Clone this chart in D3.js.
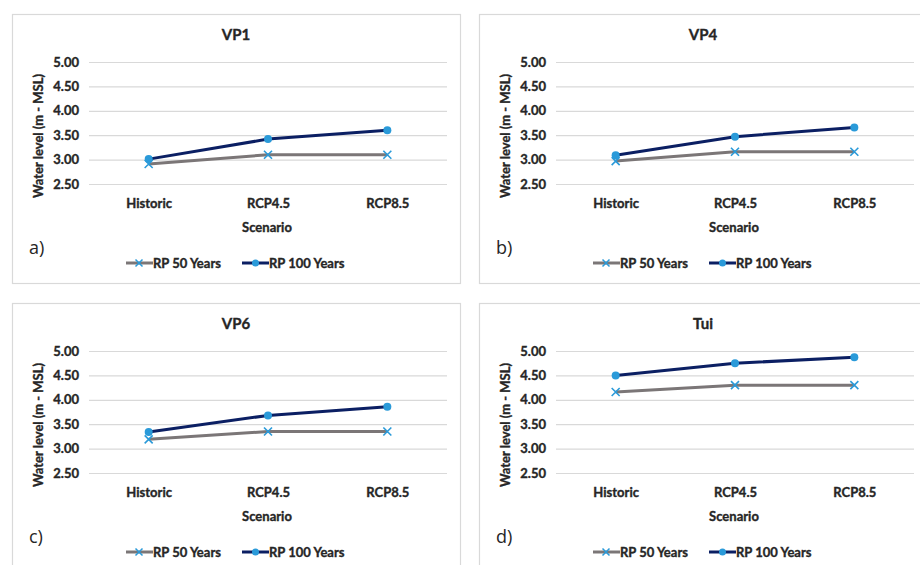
<!DOCTYPE html>
<html>
<head>
<meta charset="utf-8">
<script src="https://cdn.jsdelivr.net/npm/d3@7"></script>
<style>
  body { margin: 0; background: #fff; }
  svg { display: block; font-family: Lato, "Open Sans", sans-serif; }
  .bold { font-weight: bold; fill: #262626; stroke: #262626; stroke-width: 0.35px; }
</style>
</head>
<body>
<div id="chart"></div>
<script>
// chart data
var scenarios = ["Historic", "RCP4.5", "RCP8.5"];
var yTicks = [2.5, 3.0, 3.5, 4.0, 4.5, 5.0];
var seriesNames = ["RP 50 Years", "RP 100 Years"];
var panelTitles = ["VP1", "VP4", "VP6", "Tui"];
var panelLetters = ["a)", "b)", "c)", "d)"];
var vp1_rp50 = [2.91, 3.10, 3.10];
var vp1_rp100 = [3.01, 3.42, 3.60];
var vp4_rp50 = [2.97, 3.16, 3.16];
var vp4_rp100 = [3.09, 3.47, 3.66];
var vp6_rp50 = [3.19, 3.35, 3.35];
var vp6_rp100 = [3.34, 3.68, 3.86];
var tui_rp50 = [4.16, 4.30, 4.30];
var tui_rp100 = [4.50, 4.75, 4.87];

var panelValues = [
  [vp1_rp50, vp1_rp100],
  [vp4_rp50, vp4_rp100],
  [vp6_rp50, vp6_rp100],
  [tui_rp50, tui_rp100]
];

var lineColors = ["#7b7677", "#0b1f63"];
var markerColor = "#2a9ad9";
var gridColor = "#d9d9d9";

var svg = d3.select("#chart").append("svg")
    .attr("width", 920)
    .attr("height", 565);

// panel frames: [left, top, width, height]
var frames = [
  [12, 14, 448, 269],
  [479, 14, 448, 269],
  [12, 303, 448, 269],
  [479, 303, 448, 269]
];

frames.forEach(function (f, i) {
  var g = svg.append("g").attr("transform", "translate(" + f[0] + "," + f[1] + ")");
  g.append("rect")
      .attr("x", 0.5).attr("y", 0.5)
      .attr("width", f[2]).attr("height", f[3])
      .attr("fill", "#fff")
      .attr("stroke", gridColor)
      .attr("stroke-width", 1.2);

  var margin = { left: 77, top: 48, plotW: 358, plotH: 122 };
  var x = d3.scalePoint().domain(scenarios).range([0, margin.plotW]).padding(0.5);
  var y = d3.scaleLinear().domain([2.5, 5.0]).range([margin.plotH, 0]);

  var plot = g.append("g").attr("transform", "translate(" + margin.left + "," + margin.top + ")");

  // grid lines
  plot.append("g").selectAll("line").data(yTicks).enter().append("line")
      .attr("x1", 0).attr("x2", margin.plotW)
      .attr("y1", function (d) { return y(d) + 0.5; })
      .attr("y2", function (d) { return y(d) + 0.5; })
      .attr("stroke", gridColor)
      .attr("stroke-width", 1.2);

  // y axis
  var yAxis = plot.append("g")
      .call(d3.axisLeft(y).tickValues(yTicks).tickFormat(d3.format(".2f")).tickSize(0).tickPadding(10));
  yAxis.select(".domain").remove();
  yAxis.selectAll("text")
      .attr("class", "bold")
      .attr("font-size", 13)
      .attr("font-family", "Lato, sans-serif");

  // x axis
  var xAxis = plot.append("g")
      .attr("transform", "translate(0," + margin.plotH + ")")
      .call(d3.axisBottom(x).tickSize(0).tickPadding(15));
  xAxis.select(".domain").remove();
  xAxis.selectAll("text")
      .attr("class", "bold")
      .attr("font-size", 13)
      .attr("font-family", "Lato, sans-serif");

  // lines
  var line = d3.line()
      .x(function (d, j) { return x(scenarios[j]); })
      .y(function (d) { return y(d); });

  panelValues[i].forEach(function (vals, s) {
    plot.append("path")
        .datum(vals)
        .attr("d", line)
        .attr("fill", "none")
        .attr("stroke", lineColors[s])
        .attr("stroke-width", 3);
  });

  // markers
  panelValues[i].forEach(function (vals, s) {
    var m = plot.append("g").selectAll("g").data(vals).enter().append("g")
        .attr("transform", function (d, j) { return "translate(" + x(scenarios[j]) + "," + y(d) + ")"; });
    if (s === 0) {
      m.append("path").attr("d", "M-4,-4L4,4M-4,4L4,-4")
          .attr("stroke", markerColor).attr("stroke-width", 1.6).attr("fill", "none");
    } else {
      m.append("circle").attr("r", 4).attr("fill", markerColor);
    }
  });

  // title, centred on the frame
  g.append("text")
      .attr("class", "bold")
      .attr("x", f[2] / 2)
      .attr("y", 26)
      .attr("text-anchor", "middle")
      .attr("font-size", 15)
      .text(panelTitles[i]);

  // axis titles
  g.append("text")
      .attr("class", "bold")
      .attr("transform", "translate(31," + (margin.top + margin.plotH / 2 + 13) + ") rotate(-90)")
      .attr("text-anchor", "middle")
      .attr("font-size", 13)
      .text("Water level (m - MSL)");
  g.append("text")
      .attr("class", "bold")
      .attr("x", margin.left + margin.plotW / 2 - 1)
      .attr("y", 218)
      .attr("text-anchor", "middle")
      .attr("font-size", 13)
      .text("Scenario");

  // panel letter
  g.append("text")
      .attr("x", 17).attr("y", 240)
      .attr("font-size", 18).attr("fill", "#262626")
      .attr("font-family", "'Open Sans', sans-serif")
      .text(panelLetters[i]);

  // legend
  var legendX = [114, 230];
  seriesNames.forEach(function (name, s) {
    var lg = g.append("g").attr("transform", "translate(" + legendX[s] + ",249)");
    lg.append("line").attr("x1", 0).attr("x2", 27).attr("y1", 0).attr("y2", 0)
        .attr("stroke", lineColors[s]).attr("stroke-width", 3);
    if (s === 0) {
      lg.append("path").attr("d", "M9.5,-3.5L16.5,3.5M9.5,3.5L16.5,-3.5")
          .attr("stroke", markerColor).attr("stroke-width", 1.5);
    } else {
      lg.append("circle").attr("cx", 13.5).attr("cy", 0).attr("r", 3.5).attr("fill", markerColor);
    }
    lg.append("text").attr("x", 27).attr("y", 4.5)
        .attr("class", "bold")
        .attr("font-size", 13)
        .text(name);
  });
});
</script>
</body>
</html>
